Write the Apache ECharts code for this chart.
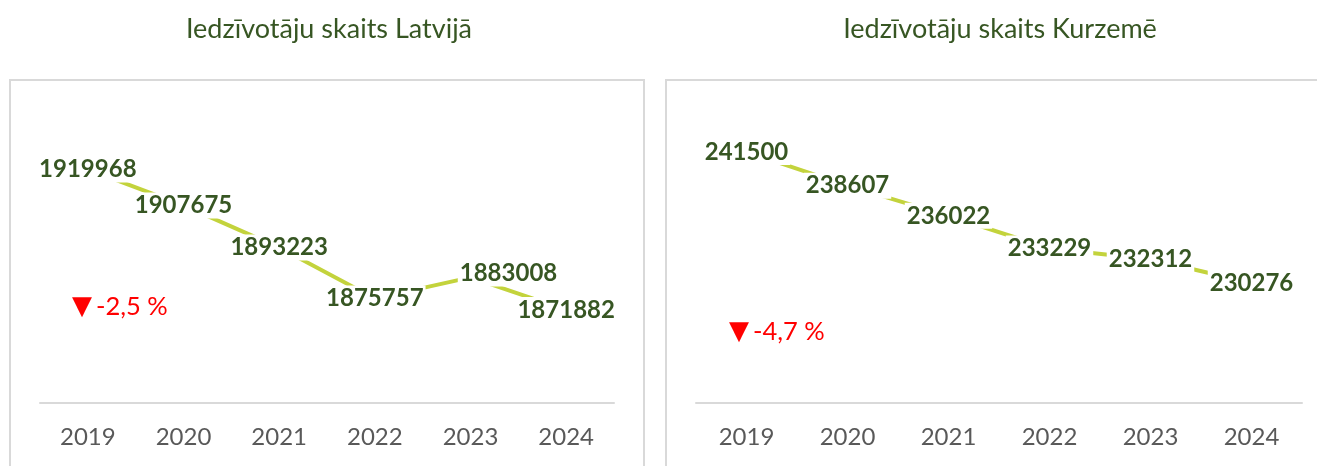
<!DOCTYPE html>
<html>
<head>
<meta charset="utf-8">
<script src="https://cdn.jsdelivr.net/npm/echarts@6/dist/echarts.min.js"></script>
<style>
  html, body { margin: 0; padding: 0; background: #fff; }
  #chart { width: 1317px; height: 466px; }
</style>
</head>
<body>
<div id="chart"></div>
<script>
// dati
var years = ['2019', '2020', '2021', '2022', '2023', '2024'];
var latvija = [1919968, 1907675, 1893223, 1875757, 1883008, 1871882];
var kurzeme = [241500, 238607, 236022, 233229, 232312, 230276];
var titles = ['Iedzīvotāju skaits Latvijā', 'Iedzīvotāju skaits Kurzemē'];
var changes = ['-2,5 %', '-4,7 %'];

var GREEN = '#375623';
var LINE = '#c3d33c';
var GRAY = '#d9d9d9';

var myChart = echarts.init(document.getElementById('chart'));

function labelsFor(values, shifted) {
  // shifted: index -> [dx, dy] label offset
  return values.map(function (v, i) {
    var item = { value: v };
    if (shifted && shifted[i]) {
      item.label = { offset: shifted[i] };
    }
    return item;
  });
}

function lineSeries(idx, values, shifted) {
  return {
    type: 'line',
    xAxisIndex: idx,
    yAxisIndex: idx,
    data: labelsFor(values, shifted),
    symbol: 'circle',
    symbolSize: 2,
    itemStyle: { color: LINE },
    lineStyle: { color: LINE, width: 4 },
    label: {
      show: true,
      position: 'inside',
      color: GREEN,
      fontFamily: 'Lato',
      fontWeight: 'bold',
      fontSize: 24,
      backgroundColor: '#fff',
      padding: [1, 2]
    },
    emphasis: { disabled: true },
    animation: false
  };
}

function xAxisFor(idx) {
  return {
    type: 'category',
    gridIndex: idx,
    data: years,
    axisLine: { lineStyle: { color: GRAY, width: 2 } },
    axisTick: { show: false },
    axisLabel: { color: '#595959', fontFamily: 'Lato', fontSize: 24, margin: 22 }
  };
}

function yAxisFor(idx, min, max) {
  return {
    type: 'value',
    gridIndex: idx,
    min: min,
    max: max,
    show: false,
    splitLine: { show: false }
  };
}

function changeText(x, y, txt) {
  return {
    type: 'text',
    left: x,
    top: y,
    style: {
      text: '{a|▼}{b|' + txt + '}',
      rich: {
        a: { fill: '#ff0000', fontFamily: 'DejaVu Sans', fontSize: 26, padding: [0, 4, 0, 0] },
        b: { fill: '#ff0000', fontFamily: 'Lato', fontSize: 25.5 }
      }
    }
  };
}

var option = {
  backgroundColor: '#fff',
  title: [
    {
      text: titles[0], left: 324, top: 11, textAlign: 'center',
      textStyle: { color: GREEN, fontFamily: 'Lato', fontWeight: 'normal', fontSize: 27 }
    },
    {
      text: titles[1], left: 995, top: 11, textAlign: 'center',
      textStyle: { color: GREEN, fontFamily: 'Lato', fontWeight: 'normal', fontSize: 27 }
    }
  ],
  graphic: [
    { type: 'rect', shape: { x: 10, y: 80, width: 634, height: 420 }, style: { fill: 'none', stroke: GRAY, lineWidth: 2 }, z: -1 },
    { type: 'rect', shape: { x: 666, y: 80, width: 700, height: 420 }, style: { fill: 'none', stroke: GRAY, lineWidth: 2 }, z: -1 },
    changeText(72, 294, changes[0]),
    changeText(729, 319, changes[1])
  ],
  grid: [
    { left: 40, right: 703, top: 111, bottom: 63 },
    { left: 696, right: 15, top: 111, bottom: 63 }
  ],
  xAxis: [xAxisFor(0), xAxisFor(1)],
  yAxis: [yAxisFor(0, 1840000, 1940000), yAxisFor(1, 220000, 245000)],
  series: [
    lineSeries(0, latvija, { 4: [38, -4] }),
    lineSeries(1, kurzeme)
  ]
};

myChart.setOption(option);
</script>
</body>
</html>
